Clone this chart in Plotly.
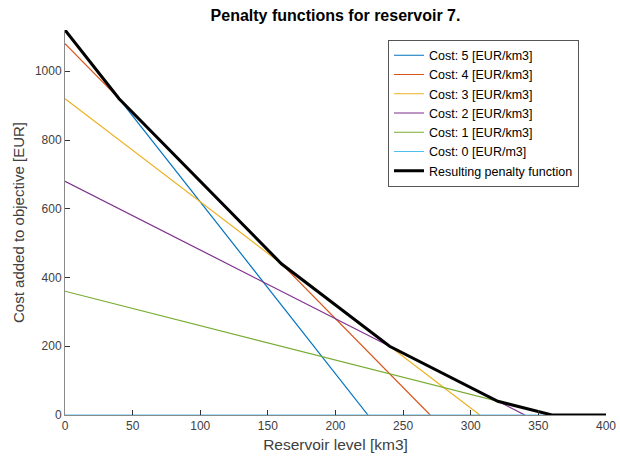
import plotly.graph_objects as go

# Data
series_names = ["Cost: 5 [EUR/km3]", "Cost: 4 [EUR/km3]", "Cost: 3 [EUR/km3]",
                "Cost: 2 [EUR/km3]", "Cost: 1 [EUR/km3]", "Cost: 0 [EUR/m3]"]
series_x = [[0, 224], [0, 270], [0, 306.7], [0, 340], [0, 360], [0, 400]]
series_y = [[1120, 0], [1080, 0], [920, 0], [680, 0], [360, 0], [0, 0]]
series_colors = ["#0072BD", "#D95319", "#EDB120", "#7E2F8E", "#77AC30", "#4DBEEE"]

result_x = [0, 40, 160, 240, 320, 360, 400]
result_y = [1120, 920, 440, 200, 40, 0, 0]

x_ticks = [0, 50, 100, 150, 200, 250, 300, 350, 400]
y_ticks = [0, 200, 400, 600, 800, 1000]

FONT = "Liberation Sans, Arial, sans-serif"

fig = go.Figure()
for name, xs, ys, c in zip(series_names, series_x, series_y, series_colors):
    fig.add_trace(go.Scatter(x=xs, y=ys, mode="lines", name=name,
                             line=dict(color=c, width=1.2)))
fig.add_trace(go.Scatter(x=result_x, y=result_y, mode="lines",
                         name="Resulting penalty function",
                         line=dict(color="black", width=3)))

axis_common = dict(showgrid=False, zeroline=False, showline=True,
                   linecolor="#8a8a8a", linewidth=1, ticks="inside",
                   ticklen=5, tickcolor="#333", mirror=False, automargin=False,
                   tickfont=dict(family=FONT, size=12, color="#404040"))

fig.update_layout(
    width=620, height=460,
    paper_bgcolor="white", plot_bgcolor="white",
    margin=dict(l=65, r=14, t=30, b=45),
    title=dict(text="<b>Penalty functions for reservoir 7.</b>", x=0.5, xanchor="center",
               xref="paper", yref="container", y=1 - 15 / 460, yanchor="middle",
               font=dict(family=FONT, size=16, color="black")),
    xaxis=dict(range=[0, 400], tickvals=x_ticks,
               title=dict(text="Reservoir level [km3]", standoff=6,
                          font=dict(family=FONT, size=15.5, color="#404040")),
               **axis_common),
    yaxis=dict(range=[0, 1120], tickvals=y_ticks,
               title=dict(text="Cost added to objective [EUR]", standoff=6,
                          font=dict(family=FONT, size=15, color="#404040")),
               **axis_common),
    legend=dict(x=0.597, y=0.975, xanchor="left", yanchor="top",
                bgcolor="white", bordercolor="#555", borderwidth=1,
                font=dict(family=FONT, size=12.5, color="black"),
                tracegroupgap=0),
    showlegend=True,
)

fig.write_html("out.html", config={"displayModeBar": False},
               post_script="document.body.style.margin='0';")
